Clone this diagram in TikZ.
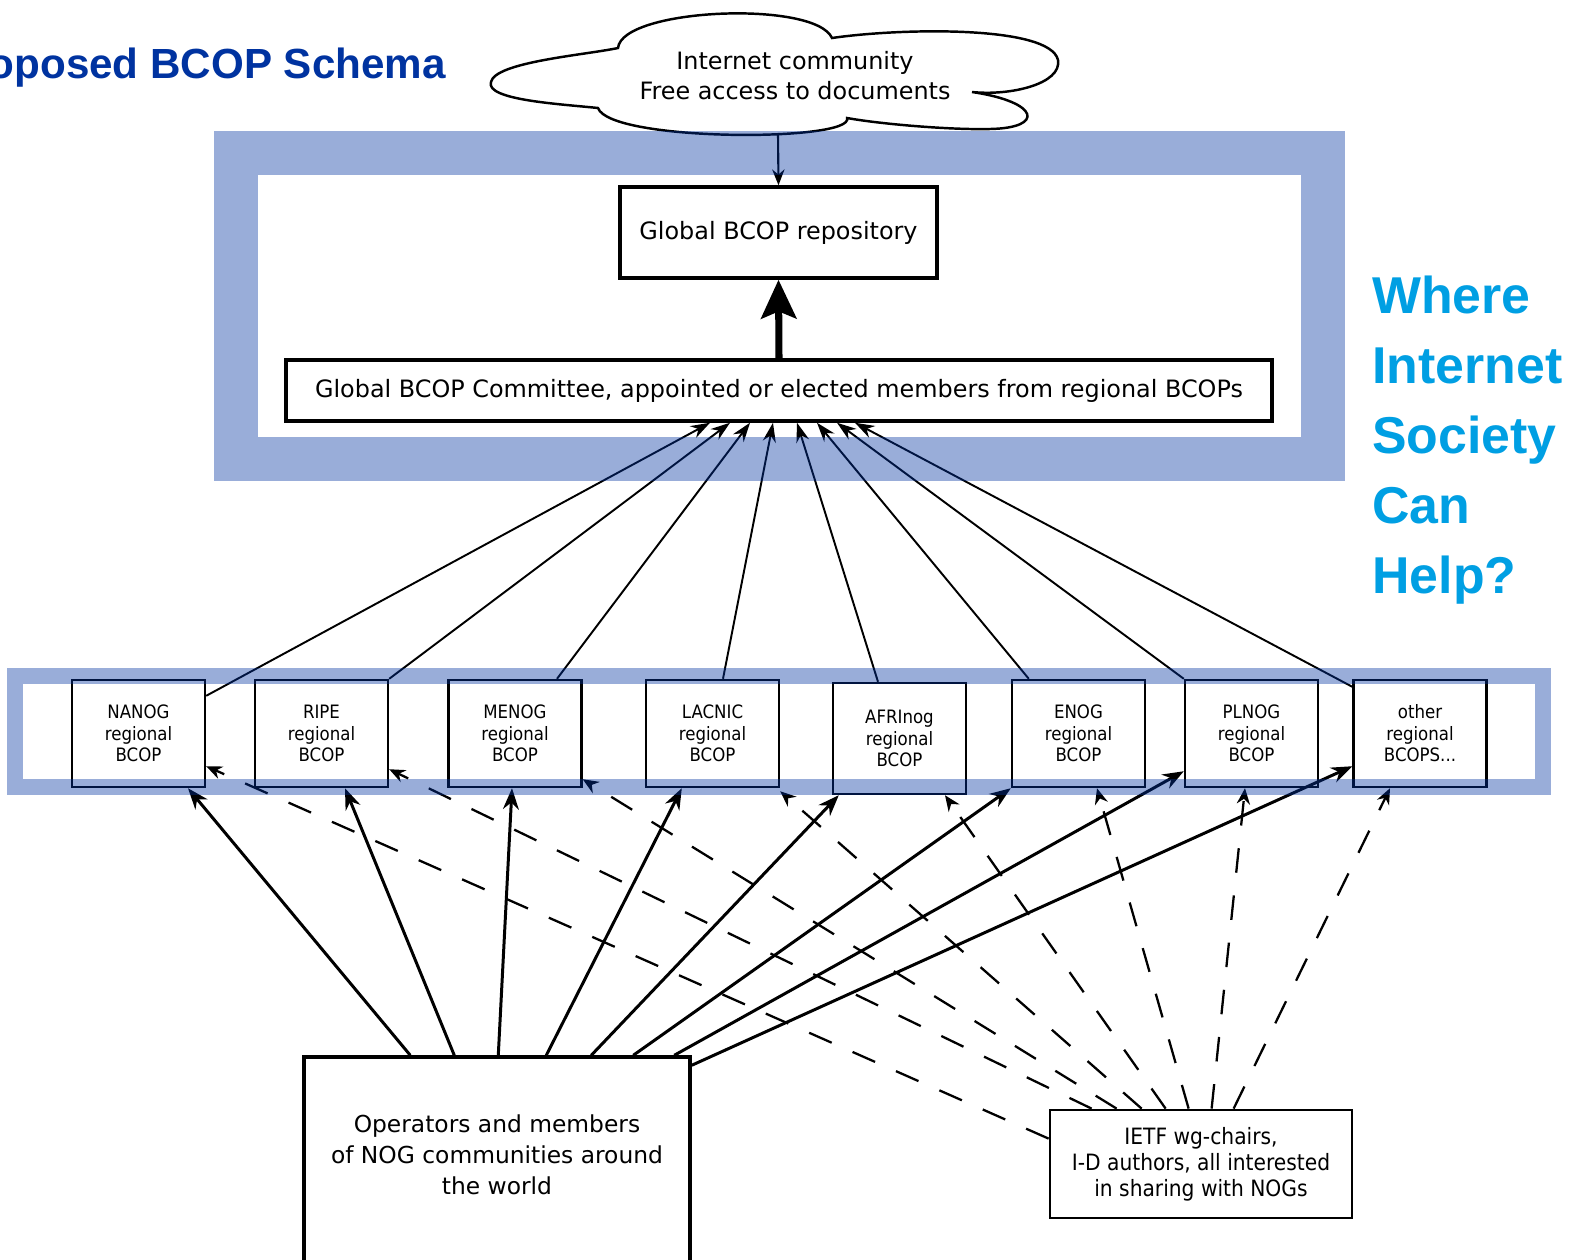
\documentclass[tikz,border=0pt]{standalone}
\usepackage{fontspec}
\setmainfont{DejaVu Sans}
\newfontfamily\condfont{DejaVu Sans Condensed}
\newfontfamily\arialfont{Liberation Sans}
\usetikzlibrary{arrows.meta,calc}
\definecolor{frameblue}{RGB}{0,50,160}
\definecolor{titleblue}{RGB}{0,51,160}
\definecolor{helpblue}{RGB}{0,159,227}
\begin{document}
\begin{tikzpicture}[x=0.02cm,y=-0.02cm,
 regbox/.style={draw,line width=1.4pt,inner sep=0pt,minimum width=2.66cm,minimum height=2.14cm,align=center,font=\condfont\fontsize{10.5}{12.2}\selectfont},
 bigbox/.style={draw,line width=2pt,inner sep=0pt,align=center,font=\fontsize{13.6}{17.5}\selectfont},
 uparrow/.style={-{Stealth[length=11pt,width=7.5pt]},line width=1.1pt},
 oparrow/.style={-{Stealth[length=12pt,width=9pt]},line width=1.7pt},
 ietfarrow/.style={-{Stealth[length=9pt,width=7.5pt]},line width=1.3pt,dash pattern=on 14pt off 13pt},
 frame/.style={draw=frameblue,draw opacity=0.4},
 helptxt/.style={anchor=base west,inner sep=0pt,text=helpblue,font=\arialfont\bfseries\fontsize{29.5}{35}\selectfont}
]
\useasboundingbox (0,0) rectangle (1575,1259);
\fill[white] (0,0) rectangle (1575,1259);

% title
\node[anchor=base east,inner sep=0pt,text=titleblue,font=\arialfont\bfseries\fontsize{24}{28}\selectfont] (title) at (446,78) {Proposed BCOP Schema};

% right text
\node[helptxt] (h1) at (1372,313) {Where};
\node[helptxt] (h2) at (1372,383) {Internet};
\node[helptxt] (h3) at (1372,453) {Society};
\node[helptxt] (h4) at (1372,523) {Can};
\node[helptxt] (h5) at (1372,593) {Help?};

% cloud
\draw[line width=1.4pt, fill=white] (491,82) .. controls (495,62) and (585,55) .. (618,48)
 .. controls (622,8) and (815,0) .. (832,38)
 .. controls (900,28) and (1050,25) .. (1058,60)
 .. controls (1062,84) and (1010,96) .. (972,92)
 .. controls (1040,102) and (1045,128) .. (990,129)
 .. controls (950,130) and (880,124) .. (847,118)
 .. controls (855,142) and (610,142) .. (598,108)
 .. controls (560,104) and (485,100) .. (491,82) -- cycle;
\node[align=center,inner sep=0pt,font=\fontsize{13.6}{17}\selectfont] (cloudtxt) at (795,76) {Internet community\\Free access to documents};
\coordinate (cloudbot) at (778,134);

% top boxes
\node[bigbox,minimum width=6.34cm,minimum height=1.82cm] (repo) at (778.5,232.5) {Global BCOP repository};
\node[bigbox,minimum width=19.72cm,minimum height=1.22cm] (comm) at (779,390.5) {Global BCOP Committee, appointed or elected members from regional BCOPs};
\draw[-{Stealth[length=9pt,width=7pt]},line width=1.2pt] (cloudbot) -- (repo.north);
\draw[-{Stealth[length=22pt,width=20pt,inset=4pt]},line width=4pt] (comm.north) -- (repo.south);

% regional boxes
\node[regbox] (nanog) at (138.5,733.5) {NANOG\\regional\\BCOP};
\node[regbox] (ripe) at (321.5,733.5) {RIPE\\regional\\BCOP};
\node[regbox] (menog) at (515,733.5) {MENOG\\regional\\BCOP};
\node[regbox] (lacnic) at (712.5,733.5) {LACNIC\\regional\\BCOP};
\node[regbox,minimum height=2.22cm] (afrinog) at (899.5,738.5) {AFRInog\\regional\\BCOP};
\node[regbox] (enog) at (1078.5,733.5) {ENOG\\regional\\BCOP};
\node[regbox] (plnog) at (1251.5,733.5) {PLNOG\\regional\\BCOP};
\node[regbox] (other) at (1420,733.5) {other\\regional\\BCOPS...};

% bottom boxes
\node[draw,line width=2pt,minimum width=7.72cm,minimum height=4.1cm,inner sep=0pt] (ops) at (497,1159.5) {};
\node[align=center,inner sep=0pt,font=\fontsize{13.3}{17.6}\selectfont] (opstxt) at (497,1155) {Operators and members\\of NOG communities around\\the world};
\node[draw,line width=1.6pt,minimum width=6.04cm,minimum height=2.16cm,inner sep=0pt,align=center,font=\condfont\fontsize{12.8}{14.7}\selectfont] (ietf) at (1201,1164) {IETF wg-chairs,\\I-D authors, all interested\\in sharing with NOGs};

% regional -> committee
\draw[uparrow] ($(nanog.north east)+(0,17)$) -- ($(comm.south)+(-69,0)$);
\draw[uparrow] (ripe.north east) -- ($(comm.south)+(-49,0)$);
\draw[uparrow] ($(menog.north)+(42,0)$) -- ($(comm.south)+(-29,0)$);
\draw[uparrow] ($(lacnic.north)+(10.5,0)$) -- ($(comm.south)+(-6,0)$);
\draw[uparrow] ($(afrinog.north)+(-21.5,0)$) -- ($(comm.south)+(18,0)$);
\draw[uparrow] ($(enog.north west)+(18,0)$) -- ($(comm.south)+(38,0)$);
\draw[uparrow] (plnog.north west) -- ($(comm.south)+(58,0)$);
\draw[uparrow] ($(other.north west)+(0,8)$) -- ($(comm.south)+(76,0)$);

% operators -> regional
\draw[oparrow] ($(ops.north west)+(108,0)$) -- ($(nanog.south)+(49.5,0)$);
\draw[oparrow] ($(ops.north west)+(152,0)$) -- ($(ripe.south)+(23.5,0)$);
\draw[oparrow] ($(ops.north west)+(196,0)$) -- ($(menog.south)+(-3,0)$);
\draw[oparrow] ($(ops.north west)+(244,0)$) -- ($(lacnic.south west)+(37,0)$);
\draw[oparrow] ($(ops.north west)+(289,0)$) -- ($(afrinog.south west)+(7,0)$);
\draw[oparrow] ($(ops.north west)+(331,0)$) -- (enog.south west);
\draw[oparrow] ($(ops.north west)+(372,0)$) -- ($(plnog.south west)+(0,-17)$);
\draw[oparrow] ($(ops.north east)+(0,10)$) -- ($(other.south west)+(0,-22)$);

% ietf -> regional
\draw[ietfarrow] ($(ietf.north west)+(0,30)$) -- ($(nanog.south east)+(0,-22)$);
\draw[ietfarrow] ($(ietf.north west)+(43,0)$) -- ($(ripe.south east)+(0,-19)$);
\draw[ietfarrow] ($(ietf.north west)+(68,0)$) -- ($(menog.south east)+(0,-9)$);
\draw[ietfarrow] ($(ietf.north west)+(93,0)$) -- ($(lacnic.south east)+(0,3)$);
\draw[ietfarrow] ($(ietf.north west)+(117,0)$) -- ($(afrinog.south)+(45.5,0)$);
\draw[ietfarrow] ($(ietf.north west)+(140,0)$) -- ($(enog.south)+(18.5,0)$);
\draw[ietfarrow] ($(ietf.north west)+(163,0)$) -- ($(plnog.south)+(-6.5,0)$);
\draw[ietfarrow] ($(ietf.north west)+(185,0)$) -- ($(other.south)+(-30,0)$);

% blue frames on top
\draw[frame,line width=24.9pt] (236,153) rectangle (1323,459);
\draw[frame,line width=9.07pt] (15,676) rectangle (1543,787);
\end{tikzpicture}
\end{document}
